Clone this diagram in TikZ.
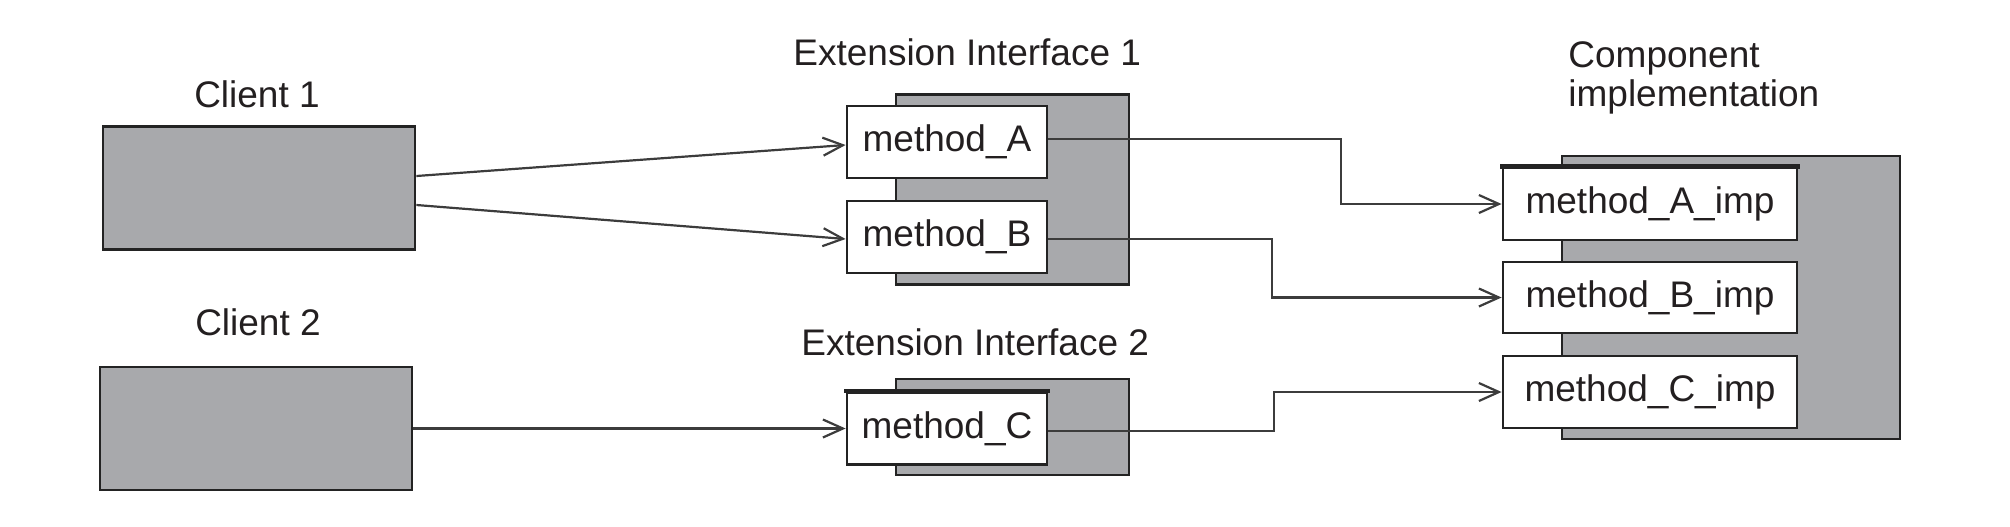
\documentclass[tikz,border=0pt]{standalone}
\usepackage{fontspec}
\setmainfont{Liberation Sans}
\usetikzlibrary{arrows.meta,calc}
\definecolor{boxgray}{RGB}{168,169,172}
\definecolor{edge}{RGB}{35,35,35}
\definecolor{linec}{RGB}{60,60,60}
\definecolor{ink}{RGB}{35,31,32}
\begin{document}
\begin{tikzpicture}[x=0.5pt,y=-0.5pt,
  every node/.style={font=\fontsize{18.5pt}{20pt}\selectfont, text=ink},
  graybox/.style={draw=edge, line width=1.4pt, fill=boxgray, inner sep=0pt},
  methodbox/.style={draw=edge, line width=1.4pt, fill=white, inner sep=0pt},
  lbl/.style={inner sep=0pt},
  conn/.style={draw=linec, line width=1.1pt, -{Straight Barb[length=10pt,width=9pt,line width=1.1pt]}},
]
\useasboundingbox (0,0) rectangle (2010,526);
% clients
\node[graybox, minimum width=156pt, minimum height=61.5pt] (c1) at (259,188) {};
\node[graybox, minimum width=156pt, minimum height=61.5pt] (c2) at (256,428.5) {};
\node[lbl, anchor=base] (c1l) at (257,107) {Client 1};
\node[lbl, anchor=base] (c2l) at (258,335) {Client 2};
% extension interfaces
\node[graybox, minimum width=116.5pt, minimum height=95pt] (ei1) at (1012.5,189.5) {};
\node[graybox, minimum width=116.5pt, minimum height=48pt] (ei2) at (1012.5,427) {};
\node[lbl, anchor=base west] (ei1l) at (793,65) {Extension Interface 1};
\node[lbl, anchor=base west] (ei2l) at (801,355) {Extension Interface 2};
\node[methodbox, minimum width=100pt, minimum height=36pt] (mA) at (947,142) {method\_A};
\node[methodbox, minimum width=100pt, minimum height=36pt] (mB) at (947,237) {method\_B};
\node[methodbox, minimum width=100pt, minimum height=36pt] (mC) at (947,428.5) {method\_C};
\draw[edge, line width=2.2pt] ([xshift=-0.7pt]mC.north west) -- ([xshift=0.7pt]mC.north east);
% component implementation
\node[graybox, minimum width=169pt, minimum height=141.5pt] (ci) at (1731,297.5) {};
\node[lbl, anchor=base west] (cil1) at (1568,67) {Component};
\node[lbl, anchor=base west] (cil2) at (1568,106) {implementation};
\node[methodbox, minimum width=147pt, minimum height=36pt] (mAi) at (1650,204) {method\_A\_imp};
\node[methodbox, minimum width=147pt, minimum height=35.5pt] (mBi) at (1650,297.5) {method\_B\_imp};
\node[methodbox, minimum width=147pt, minimum height=36pt] (mCi) at (1650,392) {method\_C\_imp};
\draw[edge, line width=2.2pt] ([xshift=-0.7pt]mAi.north west) -- ([xshift=0.7pt]mAi.north east);
% junction coordinates
\coordinate (ja) at (1341,0);
\coordinate (jb) at (1272,0);
\coordinate (jc) at (1274,0);
% connectors
\draw[conn] ($(c1.east)+(0,-12)$) -- ($(mA.west)+(0,3)$);
\draw[conn] ($(c1.east)+(0,17)$) -- ($(mB.west)+(0,2)$);
\draw[conn] (c2.east) -- (mC.west);
\draw[conn] ($(mA.east)+(0,-3)$) -| (ja |- mAi.west) -- (mAi.west);
\draw[conn] ($(mB.east)+(0,2)$) -| (jb |- mBi.west) -- (mBi.west);
\draw[conn] ($(mC.east)+(0,2.5)$) -| (jc |- mCi.west) -- (mCi.west);
\end{tikzpicture}
\end{document}
